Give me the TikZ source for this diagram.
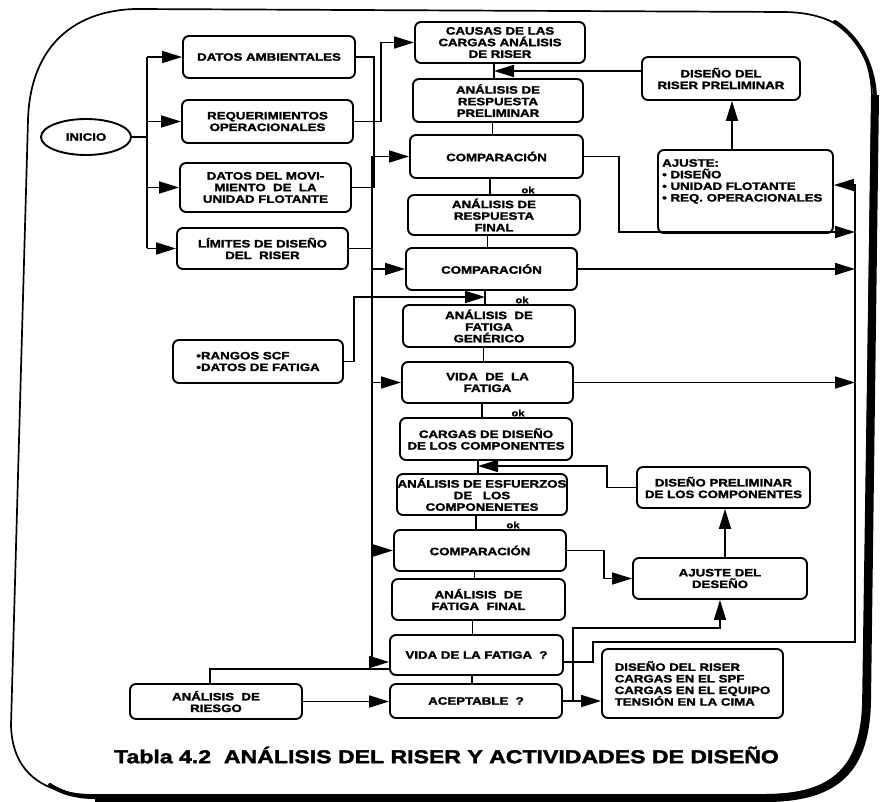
\documentclass[tikz,border=0pt]{standalone}
\usepackage{fontspec}
\setmainfont{Liberation Sans}[FakeStretch=1.24, BoldFeatures={FakeBold=2}]
\usetikzlibrary{arrows.meta,calc,shapes.geometric}
\begin{document}
\begin{tikzpicture}[x=1pt,y=-1pt,
  txt/.style={font=\bfseries\fontsize{10.7}{11.6}\selectfont},
  box/.style={txt, draw, line width=1.9pt, rounded corners=6pt, inner sep=0pt, align=center},
  lbox/.style={box, align=left},
  conn/.style={line width=1.7pt},
  arr/.style={conn, -{Triangle[length=20pt,width=12pt]}},
  oklbl/.style={font=\bfseries\fontsize{9}{9}\selectfont, inner sep=0.5pt, anchor=south},
  frameline/.style={line width=1.7pt}
]
\useasboundingbox (0,0) rectangle (883,802);

% outer frame
\draw[frameline] (135,9) -- (785,12) .. controls (845,13) and (872,45) .. (872,100)
  -- (863,700) .. controls (862,765) and (835,795) .. (765,795) -- (95,795)
  .. controls (40,795) and (12,770) .. (11,725) -- (28,120)
  .. controls (30,50) and (70,11) .. (135,9) -- cycle;
\draw[line width=4pt, line cap=round] (835,22) .. controls (862,40) and (875,70) .. (875,100);
\draw[line width=8pt] (875,95) -- (867,700) .. controls (866,768) and (838,798) .. (765,798) -- (95,798);
\draw[line width=4pt, line cap=round] (95,797) .. controls (75,797) and (60,792) .. (50,785);

% left column
\node[draw, ellipse, line width=1.9pt, minimum width=90pt, minimum height=36pt, inner sep=0pt, txt] (inicio) at (86,137) {INICIO};
\node[box, minimum width=172pt, minimum height=42pt] (amb) at (269,57) {DATOS AMBIENTALES};
\node[box, minimum width=171pt, minimum height=43pt] (req) at (267.5,121.5) {REQUERIMIENTOS\\OPERACIONALES};
\node[box, minimum width=171pt, minimum height=49pt] (mov) at (265.5,187.5) {DATOS DEL MOVI-\\MIENTO\ \ DE\ \ LA\\UNIDAD FLOTANTE};
\node[box, minimum width=171pt, minimum height=41pt] (lim) at (262.5,248.5) {LÍMITES DE DISEÑO\\DEL\ \ RISER};
\node[lbox, minimum width=170pt, minimum height=43pt] (rangos) at (258,361.5) {•RANGOS SCF\\•DATOS DE FATIGA};
\node[box, minimum width=172pt, minimum height=35pt] (riesgo) at (216,701.5) {ANÁLISIS\ \ DE\\RIESGO};

% central column
\node[box, minimum width=170pt, minimum height=41pt] (causas) at (500,42.5) {CAUSAS DE LAS\\CARGAS ANÁLISIS\\DE RISER};
\node[box, minimum width=170pt, minimum height=43pt] (respprelim) at (498,100.5) {ANÁLISIS DE\\RESPUESTA\\PRELIMINAR};
\node[box, minimum width=173pt, minimum height=43pt] (comp1) at (496.5,156.5) {COMPARACIÓN};
\node[box, minimum width=172pt, minimum height=40pt] (respfinal) at (494,215) {ANÁLISIS DE\\RESPUESTA\\FINAL};
\node[box, minimum width=171pt, minimum height=42pt] (comp2) at (491.5,269) {COMPARACIÓN};
\node[box, minimum width=172pt, minimum height=42pt] (fatgen) at (489,326) {ANÁLISIS\ \ DE\\FATIGA\\GENÉRICO};
\node[box, minimum width=171pt, minimum height=41pt] (vida) at (487.5,382.5) {VIDA\ \ DE\ \ LA\\FATIGA};
\node[box, minimum width=172pt, minimum height=42pt] (cargas) at (486,439) {CARGAS DE DISEÑO\\DE LOS COMPONENTES};
\node[box, minimum width=170pt, minimum height=41pt] (esf) at (482,494.5) {ANÁLISIS DE ESFUERZOS\\DE\quad LOS\\COMPONENETES};
\node[box, minimum width=172pt, minimum height=41pt] (comp3) at (480,550.5) {COMPARACIÓN};
\node[box, minimum width=173pt, minimum height=41pt] (fatfinal) at (478.5,599.5) {ANÁLISIS\ \ DE\\FATIGA\ \ FINAL};
\node[box, minimum width=173pt, minimum height=40pt] (vidaq) at (476.5,655) {VIDA DE LA FATIGA\ \ ?};
\node[box, minimum width=172pt, minimum height=34pt] (acept) at (476,701) {ACEPTABLE\ \ ?};

% right column
\node[box, minimum width=158pt, minimum height=43pt] (disriser) at (721,78.5) {DISEÑO DEL\\RISER PRELIMINAR};
\node[box, minimum width=175pt, minimum height=83pt] (ajuste1) at (745.5,191.5) {};
\node[txt, align=left, anchor=north west, inner sep=0pt] (ajuste1t) at (662,159) {AJUSTE:\\• DISEÑO\\• UNIDAD FLOTANTE\\• REQ. OPERACIONALES};
\node[box, minimum width=173pt, minimum height=41pt] (dispcomp) at (723.5,487.5) {DISEÑO PRELIMINAR\\DE LOS COMPONENTES};
\node[box, minimum width=174pt, minimum height=41pt] (ajuste2) at (720,578.5) {AJUSTE DEL\\DESEÑO};
\node[lbox, minimum width=181pt, minimum height=69pt] (final) at (692.5,683.5) {DISEÑO DEL RISER\\CARGAS EN EL SPF\\CARGAS EN EL EQUIPO\\TENSIÓN EN LA CIMA};

% caption
\node[font=\bfseries\fontsize{18.6}{20}\selectfont, inner sep=0pt] (caption) at (446.5,755) {Tabla 4.2\ \ ANÁLISIS DEL RISER Y ACTIVIDADES DE DISEÑO};

% ok labels
\node[oklbl] (ok1) at ([xshift=34pt]respfinal.north) {ok};
\node[oklbl] (ok2) at ([xshift=33pt]fatgen.north) {ok};
\node[oklbl] (ok3) at ([xshift=32pt]cargas.north) {ok};
\node[oklbl] (ok4) at ([xshift=33pt]comp3.north) {ok};

% start bus
\coordinate (lb) at (147,137);
\draw[conn] (inicio.east) -- (lb);
\draw[conn] (lb |- amb.west) -- (lb |- lim.west);
\foreach \n in {amb,req,mov,lim} \draw[arr] (lb |- \n.west) -- (\n.west);

\draw[conn] (amb.east) -- ++(18,0) |- (mov.east);
\draw[arr] (req.east) -- ++(27,0) |- (causas.west);

% trunk
\foreach \a/\b in {causas/respprelim, respprelim/comp1, comp1/respfinal, respfinal/comp2, comp2/fatgen, fatgen/vida, vida/cargas, cargas/esf, esf/comp3, comp3/fatfinal, fatfinal/vidaq, vidaq/acept}
  \draw[conn] ([xshift=-4pt]\b.north) -- ([xshift=-4pt]\b.north |- \a.south);

% design riser preliminary -> trunk
\coordinate (drw) at ([yshift=7.5pt]disriser.west);
\coordinate (t1) at ([xshift=-4pt]respprelim.north);
\draw[arr] (drw) -- (drw -| t1);
\coordinate (ax) at (732,0);
\draw[arr] (ajuste1.north -| ax) -- (disriser.south -| ax);

% left bus
\coordinate (lbus) at (372,0);
\coordinate (vqin) at ([yshift=-7pt]vidaq.west);
\draw[conn] (comp1.west -| lbus) -- (vqin -| lbus);
\draw[conn] (lim.east) -- (lim.east -| lbus);
\foreach \n in {comp1,comp2,vida,comp3} \draw[arr] (\n.west -| lbus) -- (\n.west);
\draw[arr] (vqin -| lbus) -- (vqin);

% right bus
\coordinate (rbus) at (855,0);
\coordinate (rb1) at (855,232);
\draw[arr] (comp1.east) -- ++(35,0) |- (rb1);
\draw[arr] (comp2.east) -- (comp2.east -| rbus);
\draw[arr] (vida.east) -- (vida.east -| rbus);
\coordinate (vqout) at ([yshift=-7pt]vidaq.east);
\coordinate (rbot) at (855,642);
\coordinate (aj1in) at ([yshift=6.5pt]ajuste1.east);
\draw[arr] (vqout) -- ++(29,0) |- (rbot) |- (aj1in);

% component design loop
\draw[arr] (comp3.east) -- ++(37,0) |- (ajuste2.west);
\coordinate (ax2) at (725,0);
\draw[arr] (ajuste2.north -| ax2) -- (dispcomp.south -| ax2);
\coordinate (tj) at (478,466);
\draw[arr] (dispcomp.west) -- ++(-29,0) |- (tj);

% fatigue data
\coordinate (tk) at (485,297);
\draw[arr] (rangos.east) -- ++(10,0) |- (tk);

% bottom
\draw[arr] (acept.east) -- (acept.east -| final.west);
\coordinate (aj2low) at ($(ajuste2.south)+(0,28)$);
\draw[arr] (acept.east) -- ++(10,0) |- (aj2low) -- (ajuste2.south);
\draw[arr] (riesgo.east) -- (riesgo.east -| acept.west);
\coordinate (vqin2) at ([yshift=-14pt]vidaq.west);
\draw[conn] ([xshift=-6pt]riesgo.north) |- (vqin2);
\end{tikzpicture}
\end{document}
